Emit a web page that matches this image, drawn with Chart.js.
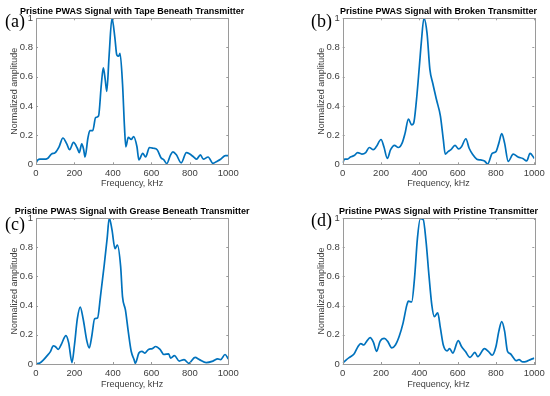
<!DOCTYPE html>
<html>
<head>
<meta charset="utf-8">
<script src="https://cdn.jsdelivr.net/npm/chart.js@4.4.1/dist/chart.umd.min.js"></script>
<style>
  html, body { margin: 0; padding: 0; background: #ffffff; }
  #wrap { position: relative; width: 550px; height: 396px; }
  canvas { position: absolute; }
</style>
</head>
<body>
<div id="wrap">
  <canvas id="cA" width="275" height="198" style="left:0;top:0"></canvas>
  <canvas id="cB" width="275" height="198" style="left:275px;top:0"></canvas>
  <canvas id="cC" width="275" height="198" style="left:0;top:198px"></canvas>
  <canvas id="cD" width="275" height="198" style="left:275px;top:198px"></canvas>
</div>
<script>
// ---- Data (frequency in kHz, normalized amplitude) ----
const tapeFreq = [0,10,20,40,60,80,100,120,140,160,175,195,215,225,238,248,255,270,280,295,310,325,340,350,360,368,380,395,410,420,430,437,450,460,467,480,495,508,525,535,555,570,590,610,630,650,665,680,700,712,730,755,782,800,820,835,855,870,895,920,940,960,985,1000];
const tapeAmp  = [0.01,0.03,0.035,0.035,0.04,0.07,0.08,0.12,0.18,0.14,0.10,0.15,0.11,0.08,0.14,0.10,0.05,0.18,0.23,0.23,0.32,0.33,0.55,0.66,0.58,0.50,0.74,1.0,0.87,0.75,0.74,0.76,0.55,0.26,0.12,0.185,0.17,0.19,0.12,0.03,0.075,0.05,0.115,0.11,0.10,0.045,0.03,0.005,0.065,0.085,0.065,0.01,0.08,0.07,0.05,0.035,0.065,0.035,0.05,0.007,0.02,0.035,0.06,0.06];

const brokenFreq = [0,10,25,40,60,78,100,120,139,160,175,200,215,233,250,270,290,310,325,343,360,370,385,400,410,424,440,455,470,490,510,525,535,550,565,586,605,620,643,660,680,700,720,740,757,780,800,815,830,845,864,890,915,940,960,978,1000];
const brokenAmp  = [0.01,0.035,0.035,0.05,0.06,0.08,0.07,0.08,0.115,0.10,0.12,0.17,0.12,0.04,0.10,0.13,0.115,0.145,0.21,0.31,0.27,0.28,0.44,0.67,0.83,1.0,0.90,0.65,0.555,0.44,0.33,0.17,0.07,0.087,0.10,0.13,0.105,0.12,0.175,0.11,0.065,0.035,0.03,0.023,0.002,0.075,0.087,0.145,0.21,0.145,0.02,0.07,0.05,0.04,0.023,0.075,0.04];

const greaseFreq = [0,20,40,60,75,90,100,116,130,156,170,187,200,215,230,245,265,277,290,305,320,335,355,370,381,395,411,423,440,450,465,480,495,510,516,535,551,565,585,605,622,645,665,690,700,720,745,770,795,827,850,885,920,945,960,983,1000];
const greaseAmp  = [0.002,0.007,0.03,0.06,0.085,0.125,0.12,0.10,0.13,0.195,0.145,0.01,0.13,0.31,0.39,0.31,0.155,0.11,0.19,0.31,0.315,0.46,0.68,0.86,1.0,0.92,0.79,0.815,0.67,0.46,0.37,0.22,0.087,0.03,0.005,0.075,0.087,0.075,0.10,0.105,0.12,0.10,0.065,0.07,0.04,0.057,0.02,0.03,0.005,0.045,0.03,0.01,0.02,0.035,0.03,0.065,0.035];

const pristineFreq = [0,20,40,60,80,94,110,125,143,160,177,195,217,235,256,275,295,315,335,343,360,375,390,405,420,435,450,465,478,496,510,525,545,558,575,603,620,640,665,690,705,740,760,780,800,815,830,845,860,875,890,905,920,940,960,980,1000];
const pristineAmp  = [0.007,0.03,0.05,0.07,0.12,0.14,0.13,0.155,0.18,0.15,0.087,0.155,0.175,0.155,0.11,0.13,0.19,0.28,0.405,0.43,0.425,0.59,0.86,0.995,0.99,0.84,0.61,0.405,0.325,0.35,0.245,0.13,0.09,0.105,0.075,0.16,0.12,0.087,0.045,0.08,0.05,0.105,0.087,0.06,0.12,0.225,0.29,0.225,0.087,0.07,0.045,0.023,0.03,0.014,0.018,0.03,0.04];

const panelTitles = [
  'Pristine PWAS Signal with Tape Beneath Transmitter',
  'Pristine PWAS Signal with Broken Transmitter',
  'Pristine PWAS Signal with Grease Beneath Transmitter',
  'Pristine PWAS Signal with Pristine Transmitter'
];
const panelLabels = ['(a)', '(b)', '(c)', '(d)'];
const xTitle = 'Frequency, kHz';
const yTitle = 'Normalized amplitude';

const LINE_COLOR = '#0072BD';
const BOX_COLOR = '#9a9a9a';
const TEXT_COLOR = '#404040';

// box + inward ticks + title + panel label
const boxPlugin = {
  id: 'matlabBox',
  afterDatasetsDraw(chart, args, opts) {
    const {ctx, chartArea: a, scales} = chart;
    ctx.save();
    ctx.strokeStyle = BOX_COLOR;
    ctx.lineWidth = 1;
    ctx.strokeRect(Math.round(a.left) + 0.5, Math.round(a.top) + 0.5,
                   Math.round(a.right - a.left), Math.round(a.bottom - a.top));
    const tl = 2;
    ctx.beginPath();
    scales.x.ticks.forEach(t => {
      const px = Math.round(scales.x.getPixelForValue(t.value)) + 0.5;
      ctx.moveTo(px, a.bottom); ctx.lineTo(px, a.bottom - tl);
      ctx.moveTo(px, a.top); ctx.lineTo(px, a.top + tl);
    });
    scales.y.ticks.forEach(t => {
      const py = Math.round(scales.y.getPixelForValue(t.value)) + 0.5;
      ctx.moveTo(a.left, py); ctx.lineTo(a.left + tl, py);
      ctx.moveTo(a.right, py); ctx.lineTo(a.right - tl, py);
    });
    ctx.stroke();
    ctx.restore();
  },
  afterDraw(chart, args, opts) {
    const {ctx, chartArea: a} = chart;
    ctx.save();
    ctx.fillStyle = '#000';
    ctx.font = 'bold 9px "Liberation Sans", Arial, sans-serif';
    ctx.textAlign = 'center';
    ctx.textBaseline = 'middle';
    ctx.fillText(opts.title, (a.left + a.right) / 2, opts.ty);
    ctx.font = '18px "Liberation Serif", "Times New Roman", serif';
    ctx.textBaseline = 'alphabetic';
    ctx.textAlign = 'left';
    ctx.fillText(opts.label, opts.lx, opts.ly);
    ctx.restore();
  }
};

function makePanel(id, title, label, freq, amp, g) {
  const pts = freq.map((f, i) => ({x: f, y: amp[i]}));
  return new Chart(document.getElementById(id), {
    type: 'line',
    data: { datasets: [{
      data: pts,
      borderColor: LINE_COLOR,
      borderWidth: 1.7,
      pointRadius: 0,
      fill: false,
      cubicInterpolationMode: 'monotone'
    }]},
    options: {
      responsive: false,
      animation: false,
      devicePixelRatio: 1,
      layout: { padding: { left: g.padLeft, right: g.padRight, top: g.top, bottom: 0 } },
      plugins: {
        legend: { display: false },
        tooltip: { enabled: false },
        title: { display: false },
        matlabBox: { title: title, ty: g.ty, label: label, lx: g.lx, ly: g.ly }
      },
      scales: {
        x: {
          type: 'linear',
          min: 0, max: 1000,
          grid: { display: false, drawTicks: false },
          border: { display: false },
          ticks: { stepSize: 200, color: TEXT_COLOR, padding: g.xTickPad,
                   callback: v => String(v),
                   font: { family: '"Liberation Sans", Arial, sans-serif', size: 9.5 } },
          title: { display: true, text: xTitle, color: TEXT_COLOR,
                   font: { family: '"Liberation Sans", Arial, sans-serif', size: 9, lineHeight: 1.2 },
                   padding: { top: 0, bottom: g.xTitlePad } },
          afterFit(s) { s.height = g.xHeight; }
        },
        y: {
          min: 0, max: 1,
          grid: { display: false, drawTicks: false },
          border: { display: false },
          ticks: { stepSize: 0.2, color: TEXT_COLOR, padding: 3,
                   callback: v => String(Math.round(v * 10) / 10),
                   font: { family: '"Liberation Sans", Arial, sans-serif', size: 9.5 } },
          title: { display: true, text: yTitle, color: TEXT_COLOR,
                   font: { family: '"Liberation Sans", Arial, sans-serif', size: 9, lineHeight: 1.2 },
                   padding: { top: 9.6, bottom: 0 } },
          afterFit(s) { s.width = 36; }
        }
      }
    },
    plugins: [boxPlugin]
  });
}

const topRow = { top: 18.3, ty: 12, xHeight: 33.7, xTickPad: 3, xTitlePad: 8.6 };
const botRow = { top: 20, ty: 13.6, xHeight: 32, xTickPad: 4, xTitlePad: 5.6 };
const leftCol = { padLeft: 0, padRight: 46.7, lx: 5 };
const rightCol = { padLeft: 31.7, padRight: 15.7, lx: 36 };

makePanel('cA', panelTitles[0], panelLabels[0], tapeFreq, tapeAmp, Object.assign({}, topRow, leftCol, {ly: 27}));
makePanel('cB', panelTitles[1], panelLabels[1], brokenFreq, brokenAmp, Object.assign({}, topRow, rightCol, {ly: 27}));
makePanel('cC', panelTitles[2], panelLabels[2], greaseFreq, greaseAmp, Object.assign({}, botRow, leftCol, {ly: 32}));
makePanel('cD', panelTitles[3], panelLabels[3], pristineFreq, pristineAmp, Object.assign({}, botRow, rightCol, {ly: 28}));
</script>
</body>
</html>
